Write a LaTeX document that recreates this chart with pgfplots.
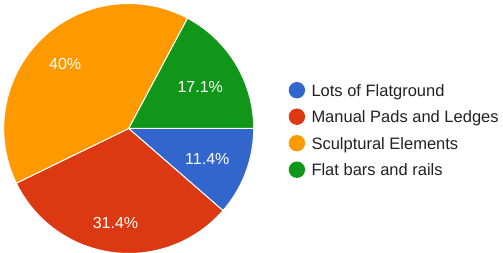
\documentclass[border=0pt]{standalone}
\usepackage{pgfplots}
\pgfplotsset{compat=1.18}
\usepackage{fontspec}
\setmainfont{Liberation Sans}
\definecolor{cA}{HTML}{3366CC}
\definecolor{cB}{HTML}{DC3912}
\definecolor{cC}{HTML}{FF9900}
\definecolor{cD}{HTML}{109618}
\definecolor{legtext}{HTML}{222222}
% percentages
\def\pA{11.4}\def\pB{31.4}\def\pC{40}\def\pD{17.1}
\pgfmathsetmacro{\aA}{-3.6*\pA}
\pgfmathsetmacro{\aB}{\aA-3.6*\pB}
\pgfmathsetmacro{\aC}{\aB-3.6*\pC}
\def\R{125}
\begin{document}
\begin{tikzpicture}
\begin{axis}[
  width=503pt, height=253pt, scale only axis,
  xmin=-128.7, xmax=374.3, ymin=-124.5, ymax=128.5,
  hide axis, clip=false,
  legend image code/.code={\fill[#1,draw=none] (8.2pt,5.9pt) circle (8.2pt);},
  legend style={draw=none, fill=none, inner sep=0pt, outer sep=0pt,
    at={(axis cs:160,46.5)}, anchor=north west,
    font=\fontsize{16.5}{20}\selectfont, text=legtext,
    row sep=8.4pt, column sep=6.4pt,
    nodes={inner sep=0pt, text height=12pt, text depth=4pt, anchor=base west}},
  legend cell align=left,
]
\addplot[fill=cA, draw=white, line width=1pt, line join=round, data cs=polar, domain=\aA:0, samples=40] (x,\R) -- (axis cs:0,0) -- cycle;
\addlegendentry{Lots of Flatground}
\addplot[fill=cB, draw=white, line width=1pt, line join=round, data cs=polar, domain=\aB:\aA, samples=80] (x,\R) -- (axis cs:0,0) -- cycle;
\addlegendentry{Manual Pads and Ledges}
\addplot[fill=cC, draw=white, line width=1pt, line join=round, data cs=polar, domain=\aC:\aB, samples=100] (x,\R) -- (axis cs:0,0) -- cycle;
\addlegendentry{Sculptural Elements}
\addplot[fill=cD, draw=white, line width=1pt, line join=round, data cs=polar, domain=-360:\aC, samples=50] (x,\R) -- (axis cs:0,0) -- cycle;
\addlegendentry{Flat bars and rails}
\begin{scope}[every node/.style={text=white, anchor=base, inner sep=0pt, font=\fontsize{16}{19}\selectfont}]
\node at (axis cs:-63.5,58.6) {40\%};
\node at (axis cs:71.5,36.0) {17.1\%};
\node at (axis cs:78.6,-36.0) {11.4\%};
\node at (axis cs:-13.2,-100.2) {31.4\%};
\end{scope}
\end{axis}
\pgfresetboundingbox
\path (0,0) rectangle (503pt,253pt);
\end{tikzpicture}
\end{document}
